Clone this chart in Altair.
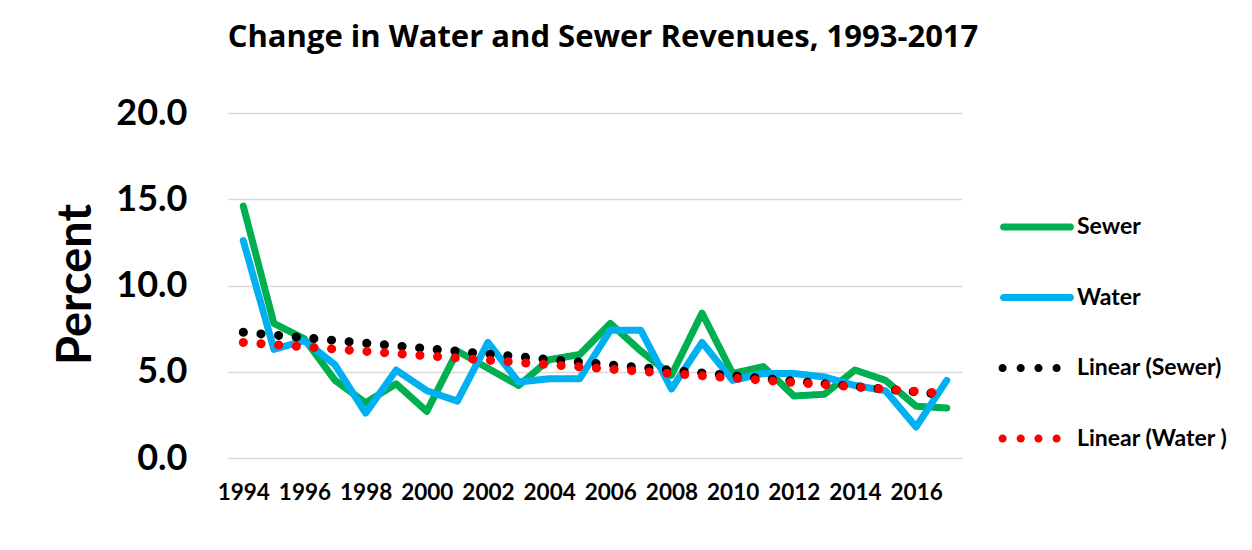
import altair as alt
import pandas as pd

years = list(range(1994, 2018))
sewer = [14.6, 7.8, 6.9, 4.5, 3.2, 4.3, 2.7, 6.2, 5.2, 4.2, 5.7, 6.0,
         7.8, 6.2, 4.8, 8.4, 4.9, 5.3, 3.6, 3.7, 5.1, 4.5, 3.0, 2.9]
water = [12.6, 6.3, 6.8, 5.4, 2.6, 5.1, 3.9, 3.3, 6.7, 4.4, 4.6, 4.6,
         7.4, 7.4, 4.0, 6.7, 4.5, 4.9, 4.9, 4.7, 4.2, 3.9, 1.8, 4.5]

series_names = ["Sewer", "Water", "Linear (Sewer)", "Linear (Water )"]
series_colors = ["#00B050", "#00B0F0", "#000000", "#FF0000"]
series_dashes = [[10000, 0], [10000, 0], [0.1, 17.6], [0.1, 17.6]]
trend_names = {"Sewer": "Linear (Sewer)", "Water": "Linear (Water )"}
x_tick_years = list(range(1994, 2017, 2))
y_ticks = [0, 5, 10, 15, 20]
title_text = "Change in Water and Sewer Revenues, 1993-2017"

df = pd.DataFrame({
    "year": years * 2,
    "pct": sewer + water,
    "series": ["Sewer"] * len(years) + ["Water"] * len(years),
})

FONT = "Lato"

# legend symbol shapes (unit box -1..1): a rounded bar and a row of four dots
_r = 0.095
bar_path = (f"M {-1 + _r} {-_r} L {1 - _r} {-_r} A {_r} {_r} 0 0 1 {1 - _r} {_r} "
            f"L {-1 + _r} {_r} A {_r} {_r} 0 0 1 {-1 + _r} {-_r} Z")
_dr = 0.11
dots_path = " ".join(
    f"M {c - _dr} 0 A {_dr} {_dr} 0 1 0 {c + _dr} 0 A {_dr} {_dr} 0 1 0 {c - _dr} 0 Z"
    for c in [-0.93, -0.44, 0.04, 0.53])
legend_shapes = [bar_path, bar_path, dots_path, dots_path]

legend = alt.Legend(
    title=None, orient="none", legendX=772, legendY=77,
    symbolSize=74 * 74, symbolStrokeWidth=0, symbolOpacity=1,
    labelFont=FONT, labelFontSize=23, labelFontWeight="bold",
    labelColor="black", rowPadding=21.5, labelOffset=3, padding=0,
)

color_scale = alt.Scale(domain=series_names, range=series_colors)

x = alt.X("year:Q",
          scale=alt.Scale(domain=[1993.5, 2017.5], nice=False, zero=False),
          axis=alt.Axis(values=x_tick_years, format="d", title=None, grid=False,
                        domain=False, ticks=False, tickSize=0, labelFlush=False,
                        labelOverlap=False, labelFont=FONT, labelFontSize=22.5,
                        labelFontWeight="bold", labelColor="black", labelPadding=23))
y = alt.Y("pct:Q",
          scale=alt.Scale(domain=[0, 20], nice=False, zero=True),
          axis=alt.Axis(values=y_ticks, format=".1f", title="Percent",
                        titleFont=FONT, titleFontSize=47, titleFontWeight="bold",
                        titleColor="black", titleAngle=270, titleX=-138, titleY=171,
                        titleBaseline="alphabetic", titleAlign="center",
                        labelFont=FONT, labelFontSize=36, labelFontWeight="bold",
                        labelColor="black", labelPadding=41, ticks=False, tickSize=0,
                        domain=False, gridColor="#D9D9D9", gridWidth=1.5))

color_nolegend = alt.Color("series:N", scale=color_scale, legend=None)
dash_nolegend = alt.StrokeDash("series:N", scale=alt.Scale(domain=series_names, range=series_dashes),
                               legend=None)

base = alt.Chart(df)

# legend-only layer (no visible marks): supplies the legend symbols
legend_layer = base.transform_filter("false").mark_point(filled=True, opacity=1).encode(
    x=x, y=y,
    color=alt.Color("series:N", scale=color_scale, legend=legend),
    shape=alt.Shape("series:N", scale=alt.Scale(domain=series_names, range=legend_shapes),
                    legend=legend),
)

lines = base.mark_line(strokeWidth=7, strokeCap="round", strokeJoin="round").encode(
    x=x, y=y, color=color_nolegend, strokeDash=dash_nolegend, order=alt.Order("year:Q"))

trend_expr = " : ".join(
    [f"datum.series == '{k}' ? '{v}'" for k, v in trend_names.items()]) + " : datum.series"

trend = base.transform_regression(
    "year", "pct", groupby=["series"]
).transform_calculate(series=trend_expr).mark_line(
    strokeWidth=9, strokeCap="round").encode(
    x=x, y=y, color=color_nolegend, strokeDash=dash_nolegend)

chart = alt.layer(legend_layer, lines, trend).resolve_legend(
    color="independent", shape="independent", strokeDash="independent"
).properties(
    width=734, height=345,
    title=alt.TitleParams(text=title_text, font="Open Sans", fontSize=31, fontWeight="bold",
                          color="black", anchor="middle", dx=8, offset=17,
                          baseline="alphabetic"),
    autosize=alt.AutoSizeParams(type="none"),
    padding={"left": 220, "top": 105, "right": 282, "bottom": 84},
).configure_view(stroke=None)

chart.save("out.html", embed_options={"renderer": "svg", "actions": False})
